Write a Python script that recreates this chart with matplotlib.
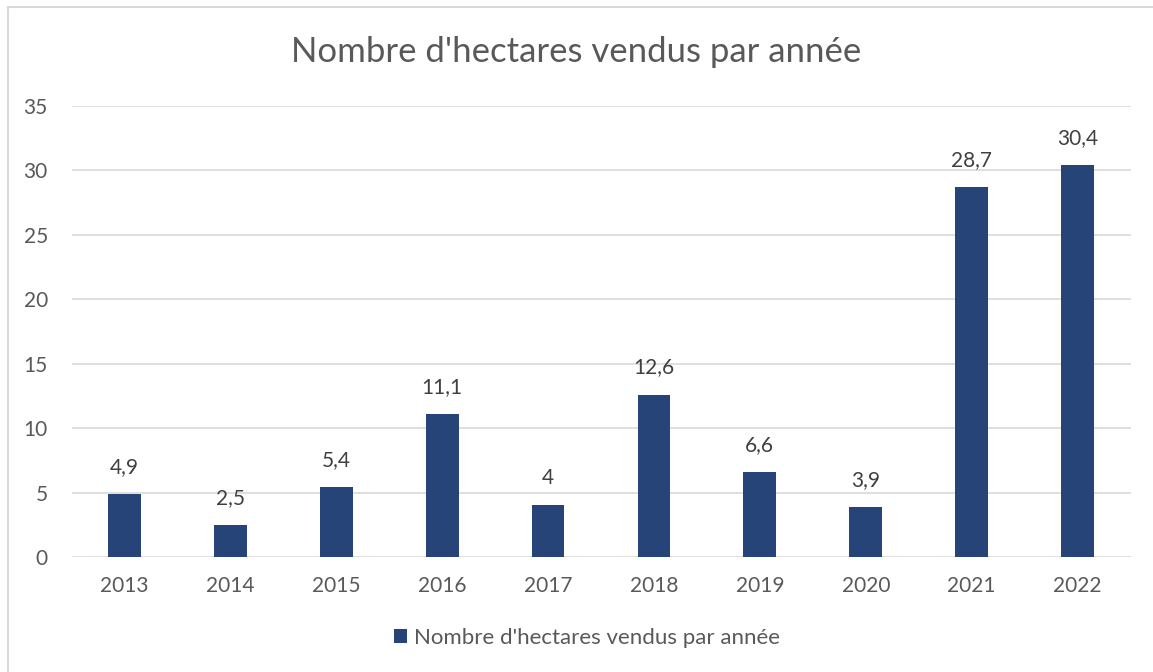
import matplotlib
matplotlib.use("Agg")
import matplotlib.pyplot as plt
from matplotlib.patches import Rectangle, Patch

years = ["2013", "2014", "2015", "2016", "2017", "2018", "2019", "2020", "2021", "2022"]
hectares = [4.9, 2.5, 5.4, 11.1, 4.0, 12.6, 6.6, 3.9, 28.7, 30.4]
labels = ["4,9", "2,5", "5,4", "11,1", "4", "12,6", "6,6", "3,9", "28,7", "30,4"]
yticks = [0, 5, 10, 15, 20, 25, 30, 35]
title = "Nombre d'hectares vendus par année"

plt.rcParams['font.family'] = ['Lato', 'DejaVu Sans']
txt = "#595959"
bar_color = "#264478"

W, H = 1153, 672
fig = plt.figure(figsize=(W / 100, H / 100), dpi=100)
fig.patch.set_facecolor("white")
ax = fig.add_axes([71.5 / W, 1 - 557 / H, (1130.5 - 71.5) / W, (557 - 106) / H])

x = list(range(len(years)))
ax.bar(x, hectares, width=0.31, color=bar_color, zorder=3)
ax.set_xlim(-0.5, len(years) - 0.5)
ax.set_ylim(0, 35)
ax.set_yticks(yticks)
ax.set_yticklabels([str(v) for v in yticks])
ax.set_xticks(x)
ax.set_xticklabels(years)
ax.tick_params(axis='both', length=0, labelsize=15, labelcolor=txt)
ax.tick_params(axis='y', pad=17)
ax.tick_params(axis='x', pad=14)
for s in ax.spines.values():
    s.set_visible(False)
ax.grid(axis='y', color="#d9d9d9", linewidth=1.2, zorder=0)
ax.set_axisbelow(True)

for xi, v, lab in zip(x, hectares, labels):
    ax.annotate(lab, (xi, v), xytext=(0, 19.5), textcoords='offset points',
                ha='center', va='center', fontsize=15, color="#404040")

fig.text(0.5, 1 - 52 / H, title, ha='center', va='center', fontsize=25, color=txt)

handle = Patch(facecolor=bar_color, edgecolor='none')
fig.legend([handle], [title], loc='center', bbox_to_anchor=(0.5 + 10 / W, 1 - 638 / H),
           frameon=False, fontsize=16, labelcolor=txt, handlelength=0.6,
           handleheight=0.6, handletextpad=0.3)

fig.add_artist(Rectangle((8 / W, -0.1), 1.2, 1.1 - 7 / H, transform=fig.transFigure,
                         fill=False, edgecolor="#d9d9d9", linewidth=1.5))

fig.savefig("out.png", dpi=100, facecolor="white")
